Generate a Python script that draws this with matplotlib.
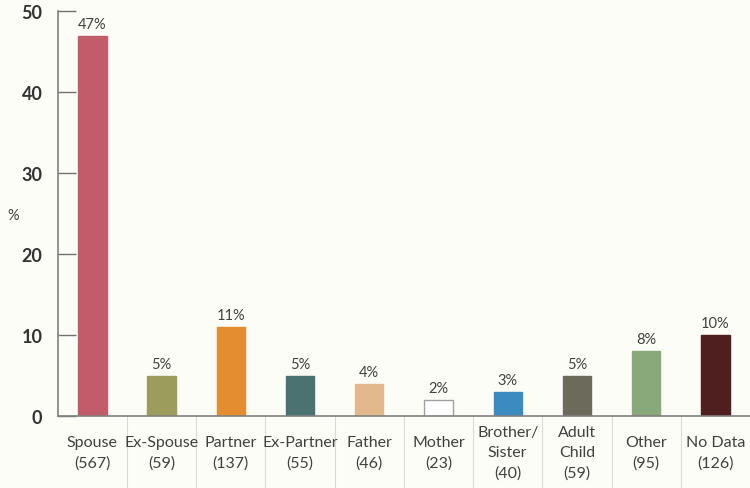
import matplotlib.pyplot as plt
import matplotlib.transforms as mtransforms

categories = ["Spouse\n(567)", "Ex-Spouse\n(59)", "Partner\n(137)", "Ex-Partner\n(55)",
              "Father\n(46)", "Mother\n(23)", "Brother/\nSister\n(40)", "Adult\nChild\n(59)",
              "Other\n(95)", "No Data\n(126)"]
percent = [47, 5, 11, 5, 4, 2, 3, 5, 8, 10]
colors = ["#c25b6a", "#9c9c5c", "#e38c30", "#4b7270", "#e2b98c", "#ffffff",
          "#3b8bc1", "#6b6a5b", "#89a97a", "#4f1f1f"]
yticks = [0, 10, 20, 30, 40, 50]

plt.rcParams["font.family"] = ["Lato", "DejaVu Sans"]

bg = "#fdfdf8"
fig = plt.figure(figsize=(7.5, 4.89), dpi=100, facecolor=bg)
ax = fig.add_axes([0.077, 0.147, 0.923, 0.828], facecolor=bg)

x = range(len(categories))
ax.bar(x, percent, width=0.41, color=colors,
       edgecolor=["#a0a0a0" if c == "#ffffff" else c for c in colors], linewidth=1)

for i, v in enumerate(percent):
    ax.text(i, v + 0.6, f"{v}%", ha="center", va="bottom", fontsize=10.5, color="#404040")

ax.set_xlim(-0.5, len(categories) - 0.5)
ax.set_ylim(0, 50)
ax.set_yticks(yticks)
ax.tick_params(axis="y", direction="in", length=13, width=1, color="#707070",
               labelsize=13, labelcolor="#333333", pad=11)
for lab in ax.get_yticklabels():
    lab.set_fontweight("bold")
ax.set_xticks([])

for s in ["top", "right"]:
    ax.spines[s].set_visible(False)
for s in ["left", "bottom"]:
    ax.spines[s].set_color("#808080")
    ax.spines[s].set_linewidth(1.2)

ax.set_ylabel("%", rotation=0, fontsize=10.5, color="#404040")
ax.yaxis.set_label_coords(-0.065, 0.48)

# category labels and separator lines below the axis
trans = mtransforms.blended_transform_factory(ax.transData, ax.transAxes)
for i, name in enumerate(categories):
    ax.text(i, -0.09, name, transform=trans, ha="center", va="center",
            fontsize=11.5, color="#404040", linespacing=1.55)
    if i > 0:
        ax.plot([i - 0.5, i - 0.5], [0, -0.18], transform=trans, color="#d9d9d9",
                linewidth=0.8, clip_on=False)

fig.savefig("out.png", dpi=100, facecolor=bg)
